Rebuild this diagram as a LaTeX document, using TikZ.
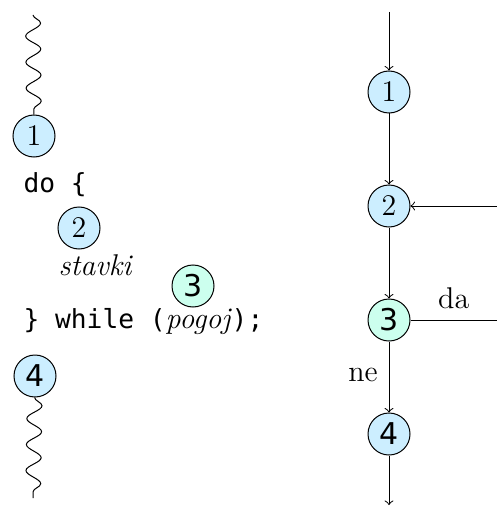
\documentclass[tikz,border=0pt]{standalone}
\usepackage{fontspec}
\setmonofont{DejaVu Sans Mono}
\newfontfamily\sansdigits{DejaVu Sans}
\usetikzlibrary{positioning,decorations.pathmorphing}
\definecolor{stepblue}{RGB}{204,238,255}
\definecolor{condgreen}{RGB}{204,255,238}

\begin{document}
\begin{tikzpicture}[x=0.4pt, y=-0.4pt,
  point/.style={circle, draw, fill=stepblue, minimum size=16.8pt, inner sep=0pt, font=\large},
  cond/.style={point, fill=condgreen},
  wave/.style={decorate, decoration={snake, segment length=10.4pt, amplitude=3pt}},
  code/.style={anchor=base west, inner sep=0pt, font=\fontsize{10.5}{12}\selectfont},
  answer/.style={font=\large}]
  \useasboundingbox (0,0) rectangle (497,506);

  % code on the left
  \coordinate (wtop) at (33,15);
  \node[point] (a1) at (34,136) {1};
  \node[code] (do) at (23,193) {\ttfamily do \{};
  \node[point] (a2) at (79,228) {2};
  \node[code] (st) at (58,275) {\large\itshape stavki};
  \node[cond] (a3) at (193,286) {\sansdigits 3};
  \node[code] (wh) at (23,328) {\ttfamily \} while ({\rmfamily\itshape\large pogoj\/});};
  \node[point] (a4) at (35,376) {\sansdigits 4};
  \coordinate (wbot) at (33,498);

  \draw[wave] (wtop) -- (a1);
  \draw[wave] (a4) -- (wbot);

  % flow on the right
  \node[point] (b1) at (389,92) {1};
  \node[point, below=28.4pt of b1] (b2) {2};
  \node[cond, below=28.4pt of b2] (b3) {\sansdigits 3};
  \node[point, below=28.4pt of b3] (b4) {\sansdigits 4};
  \coordinate (in) at (389,12);
  \coordinate (out) at (389,505);
  \coordinate (redge) at (497,0);

  % edges
  \draw[->] (in) -- (b1);
  \draw[->] (b1) -- (b2);
  \draw[->] (b2) -- (b3);
  \draw[->] (b3) -- node[answer, left, xshift=-1pt, yshift=1pt] {ne} (b4);
  \draw[->] (b4) -- (out);
  \draw (b3) -- node[answer, above, yshift=1pt] {da} (redge |- b3);
  \draw[->] (redge |- b2) -- (b2);
\end{tikzpicture}
\end{document}
